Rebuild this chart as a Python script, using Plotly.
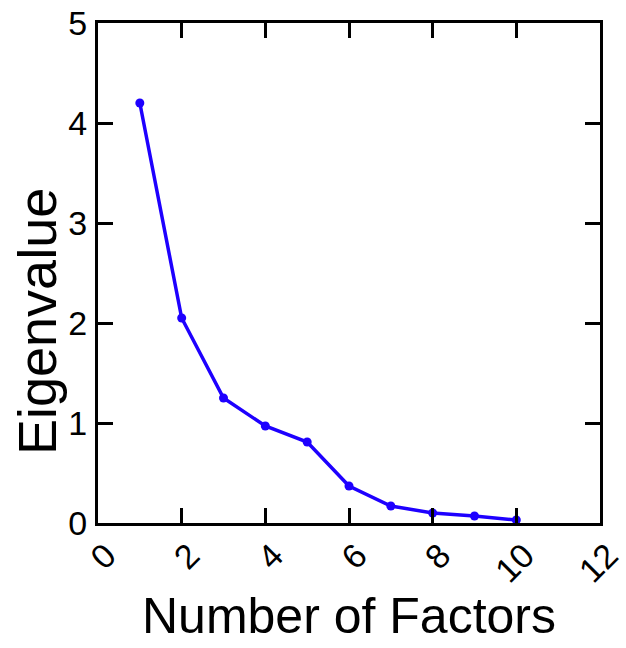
import plotly.graph_objects as go

factors = [1, 2, 3, 4, 5, 6, 7, 8, 9, 10]
eigenvalues = [4.2, 2.05, 1.25, 0.97, 0.81, 0.37, 0.17, 0.10, 0.07, 0.03]
x_ticks = [0, 2, 4, 6, 8, 10, 12]
y_ticks = [0, 1, 2, 3, 4, 5]

FONT = "Liberation Sans, Arial, sans-serif"

fig = go.Figure(go.Scatter(
    x=factors, y=eigenvalues, mode="lines+markers",
    line=dict(color="#1e00ff", width=3.5),
    marker=dict(color="#1e00ff", size=9),
))

axis_common = dict(
    automargin=False, showgrid=False, zeroline=False, showline=True, linecolor="black",
    linewidth=3, mirror="ticks", ticks="inside", ticklen=15, tickwidth=3,
    tickcolor="black", tickfont=dict(family=FONT, size=34, color="black"),
    ticklabeloverflow="allow",
)

fig.update_layout(
    width=626, height=648,
    margin=dict(l=98, r=26, t=23, b=125),
    paper_bgcolor="white", plot_bgcolor="white",
    showlegend=False,
    xaxis=dict(range=[0, 12], tickvals=x_ticks, ticktext=[str(v) for v in x_ticks],
               tickangle=-45, ticklabelshift=8, ticklabelstandoff=-4, **axis_common),
    yaxis=dict(range=[0, 5], tickvals=y_ticks, ticktext=[str(v) for v in y_ticks],
               ticklabelstandoff=1, **axis_common),
    annotations=[
        dict(text="Eigenvalue", xref="paper", yref="paper", x=0, y=0.402,
             xshift=-61, xanchor="center", yanchor="middle", textangle=-90,
             showarrow=False, font=dict(family=FONT, size=54, color="black")),
        dict(text="Number of Factors", xref="paper", yref="paper", x=0.5, y=0,
             yshift=-93, xanchor="center", yanchor="middle",
             showarrow=False, font=dict(family=FONT, size=50, color="black")),
    ],
)

fig.write_html("out.html", config={"displayModeBar": False},
               post_script="document.body.style.margin='0';document.body.style.overflow='hidden';")
